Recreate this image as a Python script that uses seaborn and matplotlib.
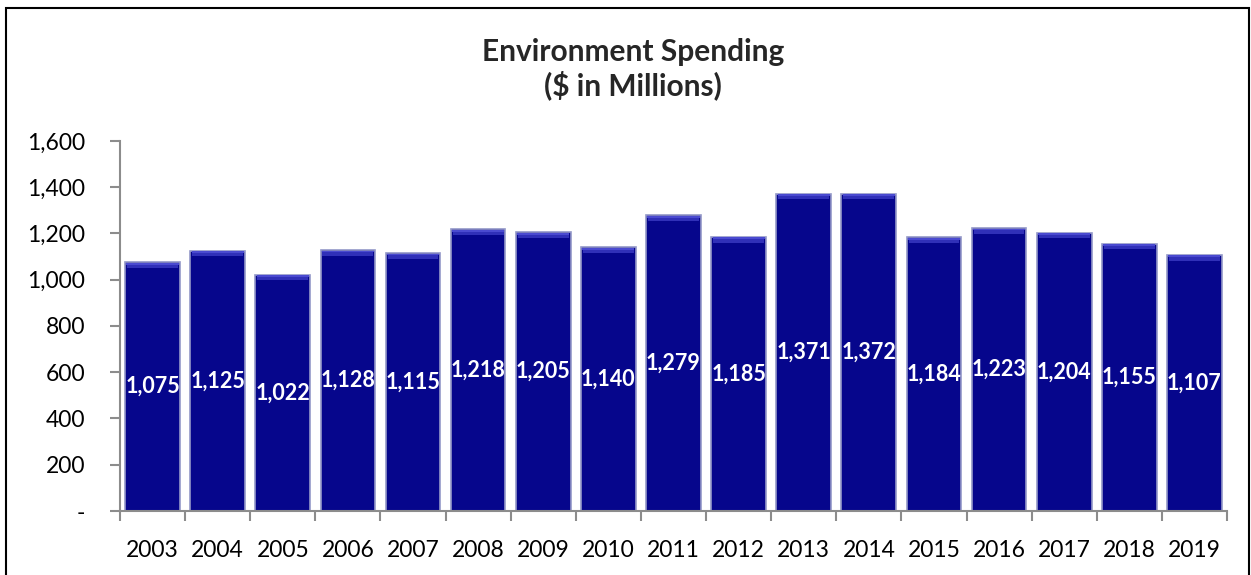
import matplotlib
matplotlib.use("Agg")
import matplotlib.pyplot as plt
import seaborn as sns
import pandas as pd
from matplotlib.patches import Rectangle
from matplotlib.ticker import FixedLocator, FuncFormatter

years = ["2003", "2004", "2005", "2006", "2007", "2008", "2009", "2010", "2011",
         "2012", "2013", "2014", "2015", "2016", "2017", "2018", "2019"]
spending = [1075, 1125, 1022, 1128, 1115, 1218, 1205, 1140, 1279,
            1185, 1371, 1372, 1184, 1223, 1204, 1155, 1107]
y_ticks = [0, 200, 400, 600, 800, 1000, 1200, 1400, 1600]
title_lines = ["Environment Spending", "($ in Millions)"]

sns.set_style("white")
plt.rcParams["font.family"] = ["Lato", "DejaVu Sans"]

df = pd.DataFrame({"year": years, "spending": spending})

fig = plt.figure(figsize=(12.51, 5.75), dpi=100)
ax = fig.add_axes([0.0959, 0.1113, 0.9808 - 0.0959, 0.7548 - 0.1113])

sns.barplot(data=df, x="year", y="spending", ax=ax, color="#06068c",
            saturation=1, width=0.84, edgecolor="#9498c8", linewidth=1.2)

# bevel highlight on top of each bar
for i, v in enumerate(spending):
    ax.bar(i, 22, bottom=v - 24, width=0.78, color="#3030b8", linewidth=0, zorder=3)
    ax.bar(i, 8, bottom=v - 10, width=0.80, color="#4a4ad0", linewidth=0, zorder=3)

ax.set_xlim(-0.5, len(years) - 0.5)
ax.set_ylim(0, 1600)
ax.set_yticks(y_ticks)
ax.yaxis.set_major_formatter(FuncFormatter(lambda v, p: "-" if v == 0 else f"{int(v):,}"))
ax.set_xlabel("")
ax.set_ylabel("")

for s in ["top", "right"]:
    ax.spines[s].set_visible(False)
for s in ["left", "bottom"]:
    ax.spines[s].set_color("#8c8c8c")
    ax.spines[s].set_linewidth(1.5)

ax.tick_params(axis="y", which="major", length=7, width=1.5, color="#8c8c8c",
               direction="out", labelsize=16.5, pad=18, left=True, labelcolor="black")
ax.tick_params(axis="x", which="major", length=0, labelsize=16.5, pad=21, labelcolor="black")
ax.xaxis.set_minor_locator(FixedLocator([i - 0.5 for i in range(len(years) + 1)]))
ax.tick_params(axis="x", which="minor", length=7, width=1.5, color="#8c8c8c",
               direction="out", bottom=True)

for i, v in enumerate(spending):
    ax.text(i, v / 2, f"{v:,}", ha="center", va="center", color="white",
            fontsize=15.5, fontweight="bold", zorder=5)

fig.text(0.506, 0.88, "\n".join(title_lines), ha="center", va="center",
         fontsize=21.5, fontweight="bold", linespacing=1.2)

frame = Rectangle((6 / 1251, -0.01), (1249 - 6) / 1251, 1 - 8 / 575 + 0.01,
                  transform=fig.transFigure, fill=False, edgecolor="black",
                  linewidth=1.5, zorder=10)
fig.patches.append(frame)

fig.savefig("out.png", dpi=100)
